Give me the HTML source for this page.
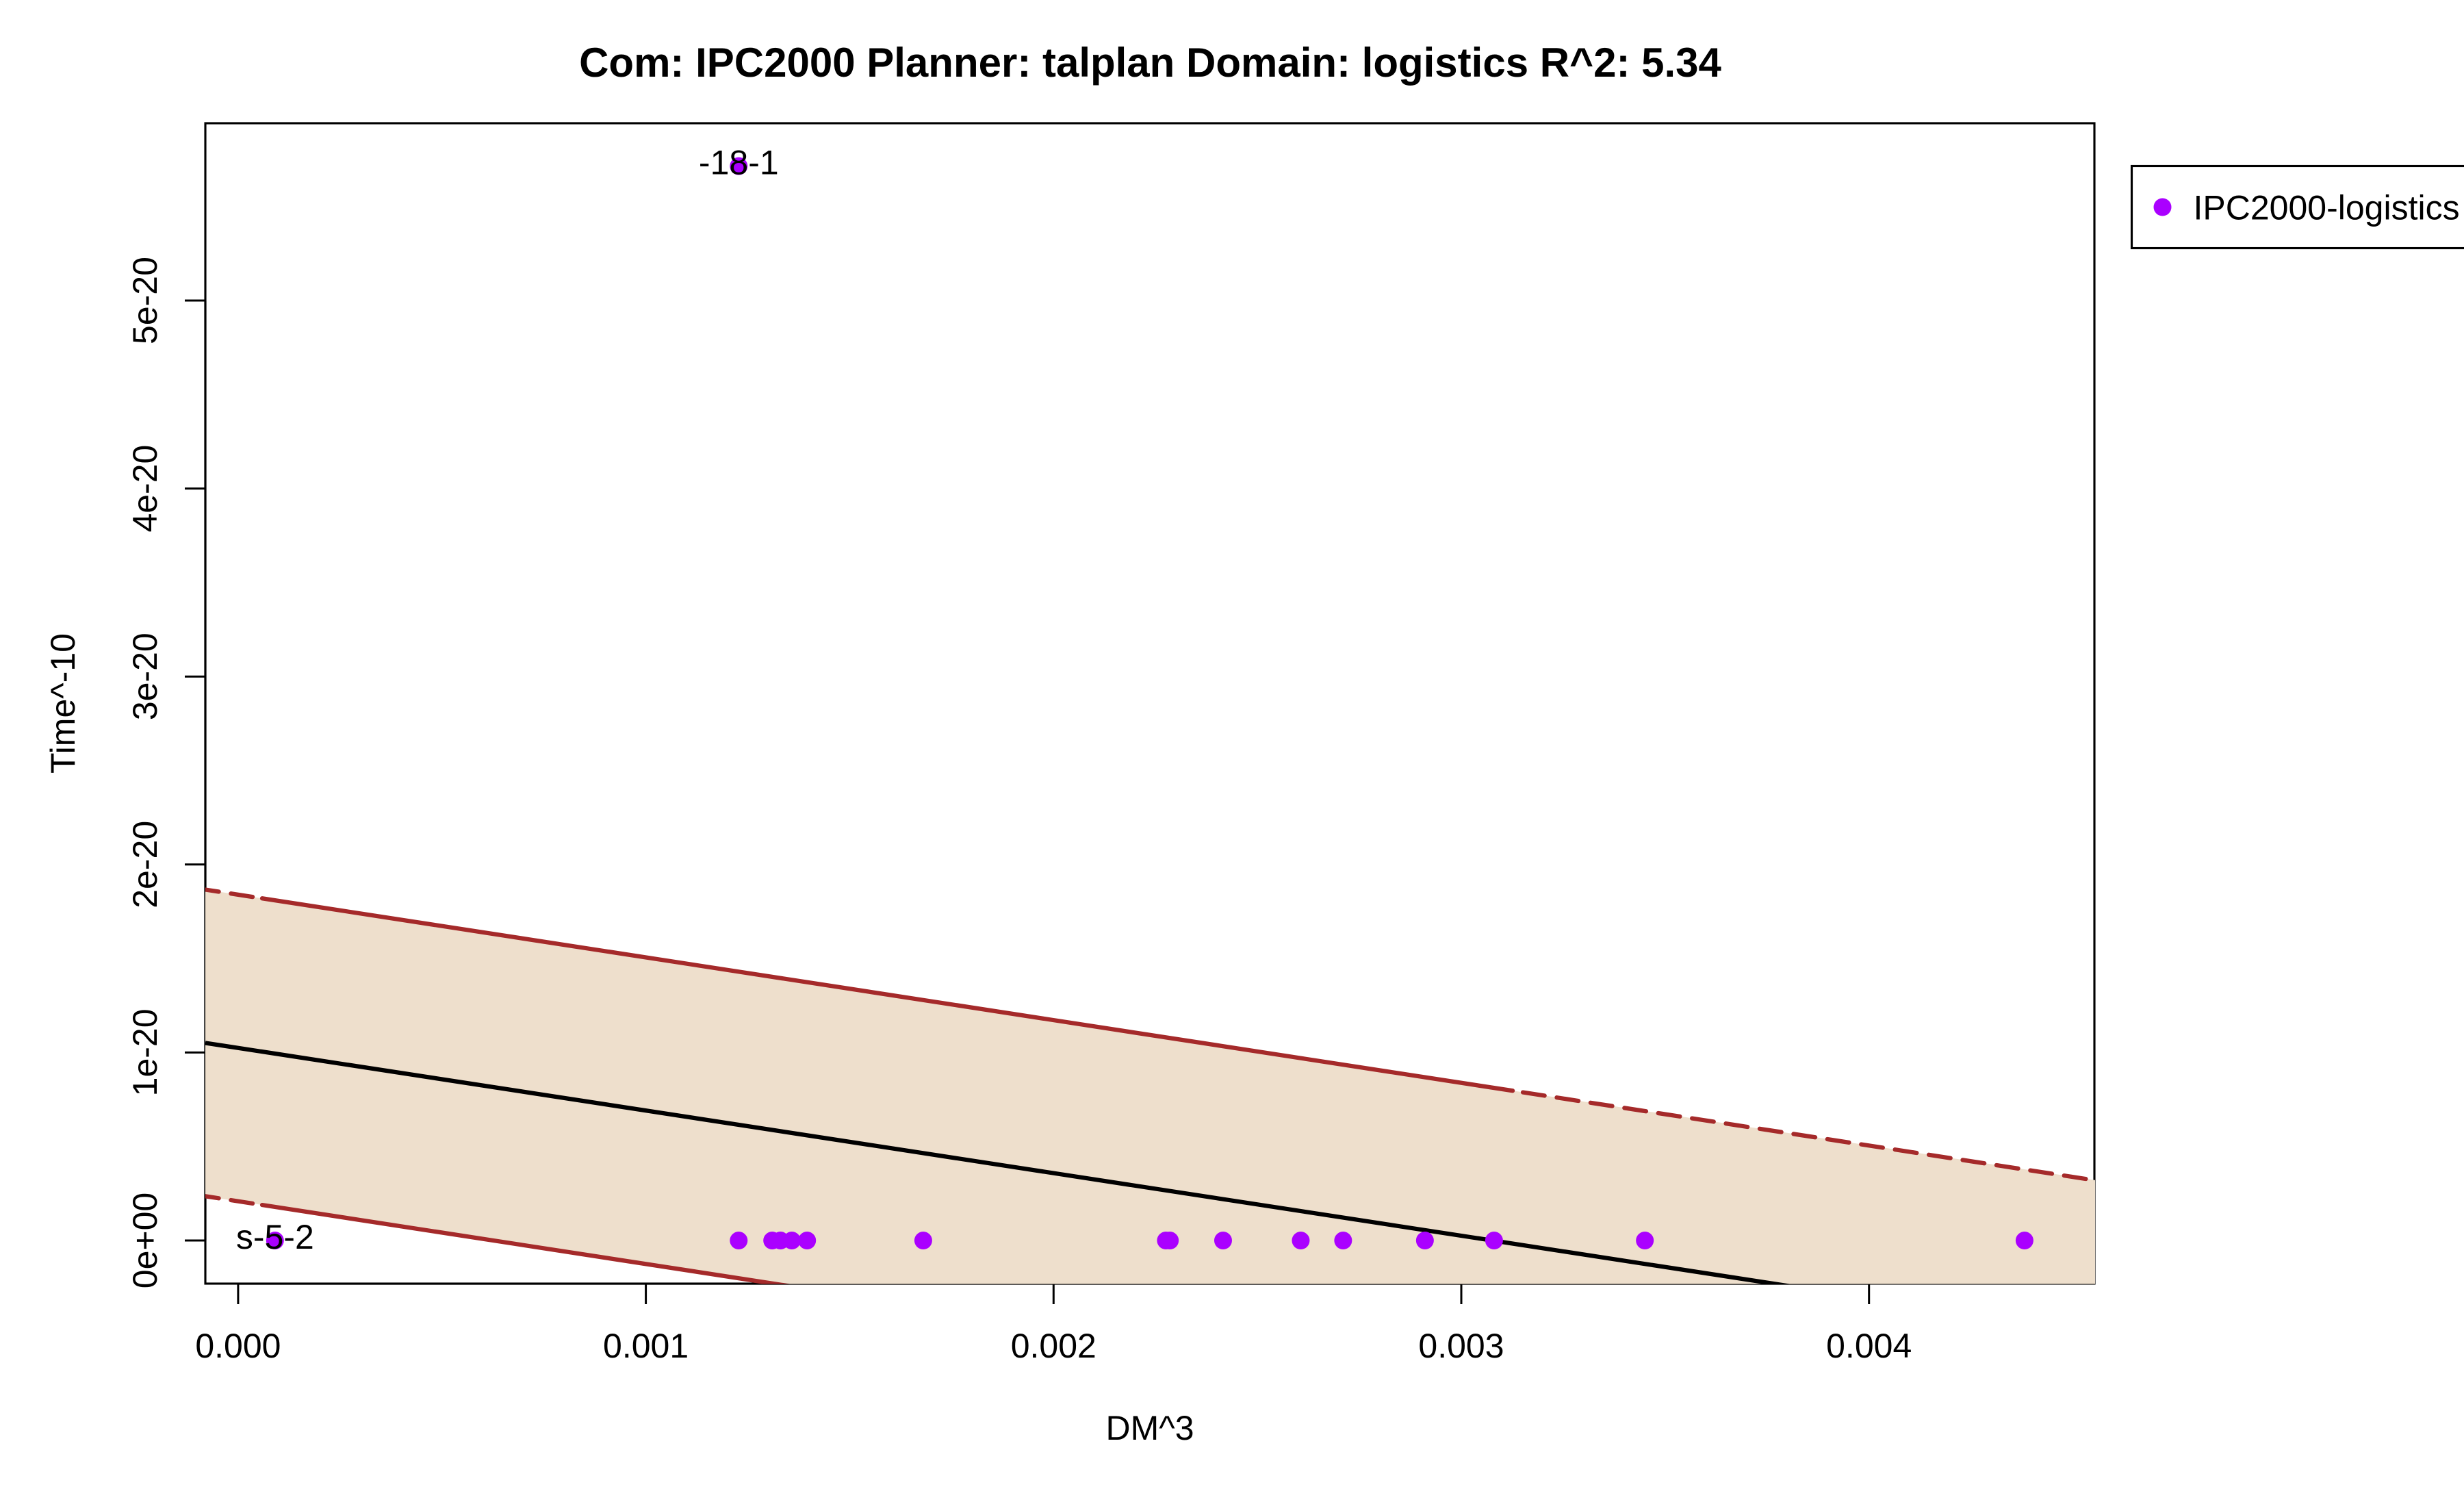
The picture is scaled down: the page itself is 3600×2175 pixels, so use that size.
<!DOCTYPE html>
<html lang="en">
<head>
<meta charset="utf-8">
<title>Com: IPC2000 Planner: talplan Domain: logistics R^2: 5.34</title>
<style>
html,body{margin:0;padding:0;background:#fff;}
svg{display:block;font-family:"Liberation Sans",Arial,sans-serif;}
</style>
</head>
<body>
<svg id="chart" xmlns="http://www.w3.org/2000/svg" width="3600" height="2175" viewBox="0 0 3600 2175">
  <rect x="0" y="0" width="3600" height="2175" fill="#ffffff"/>
  <defs>
    <clipPath id="plot-clip"><rect x="300" y="180" width="2761" height="1695.5"/></clipPath>
  </defs>
  <text x="1680.5" y="112" font-size="60" font-weight="bold" text-anchor="middle">Com: IPC2000 Planner: talplan Domain: logistics R^2: 5.34</text>
  <text x="1680" y="2103" font-size="50" text-anchor="middle">DM^3</text>
  <text x="109" y="1027.5" font-size="50" text-anchor="middle" transform="rotate(-90 109 1027.5)">Time^-10</text>
  <rect x="300" y="180" width="2760" height="1695" fill="none" stroke="#000" stroke-width="3.125"/>
  <g id="axes"></g>
  <g id="band" clip-path="url(#plot-clip)"></g>
  <g id="points"></g>
  <g id="labels"></g>
  <g>
    <rect x="3114.5" y="242.5" width="520" height="120" fill="#fff" stroke="#000" stroke-width="3.125"/>
    <circle cx="3159.5" cy="302.5" r="13" fill="#AA00FF"/>
    <text x="3204.5" y="320.5" font-size="50">IPC2000-logistics</text>
  </g>
</svg>
<script>
const xValues = [0.0000905, 0.0012278, 0.0012278, 0.0013099, 0.0013302, 0.0013581, 0.0013955, 0.0016804, 0.0022755, 0.0022852, 0.0024158, 0.0026063, 0.0027102, 0.0029108, 0.0030804, 0.0034502, 0.0043814];
const yValues = [0, 5.715e-20, 0, 0, 0, 0, 0, 0, 0, 0, 0, 0, 0, 0, 0, 0, 0];
const pointLabels = ["s-5-2", "-18-1", "", "", "", "", "", "", "", "", "", "", "", "", "", "", ""];
const xTickValues = [0, 0.001, 0.002, 0.003, 0.004];
const xTickLabels = ["0.000", "0.001", "0.002", "0.003", "0.004"];
const yTickValues = [0, 1e-20, 2e-20, 3e-20, 4e-20, 5e-20];
const yTickLabels = ["0e+00", "1e-20", "2e-20", "3e-20", "4e-20", "5e-20"];
const lineXValues = [-0.0000804, 0.0045528];
const fitValues = [1.0510e-20, -0.4916e-20];
const upperValues = [1.8664e-20, 0.3205e-20];
const lowerValues = [0.2356e-20, -1.3103e-20];
const xDomain = [-0.0000804, 0.0045528];
const yDomain = [-0.2294e-20, 5.9432e-20];
const dashBreakValues = [0.000059, 0.003126];

const NS = "http://www.w3.org/2000/svg";
const plotLeft = 300, plotRight = 3060, plotTop = 180, plotBottom = 1875;
function xPx(v) { return plotLeft + (v - xDomain[0]) / (xDomain[1] - xDomain[0]) * (plotRight - plotLeft); }
function yPx(v) { return plotBottom - (v - yDomain[0]) / (yDomain[1] - yDomain[0]) * (plotBottom - plotTop); }
function make(tag, attrs, parent) {
  const el = document.createElementNS(NS, tag);
  for (const k in attrs) el.setAttribute(k, attrs[k]);
  parent.appendChild(el);
  return el;
}
function lerp(series, x) {
  const t = (x - lineXValues[0]) / (lineXValues[1] - lineXValues[0]);
  return series[0] + (series[1] - series[0]) * t;
}

const axes = document.getElementById("axes");
const xAxisLine = make("line", {x1: xPx(xTickValues[0]), x2: xPx(xTickValues[xTickValues.length - 1]), y1: plotBottom, y2: plotBottom, stroke: "#000", "stroke-width": 3.125}, axes);


const yAxisLine = make("line", {x1: plotLeft, x2: plotLeft, y1: yPx(yTickValues[0]), y2: yPx(yTickValues[yTickValues.length - 1]), stroke: "#000", "stroke-width": 3.125}, axes);



xTickValues.forEach(function (v, i) {
  const px = xPx(v);
  const tick = make("line", {x1: px, x2: px, y1: plotBottom, y2: plotBottom + 30, stroke: "#000", "stroke-width": 3}, axes);
  
  
  const label = make("text", {x: px, y: 1983, "font-size": 50, "text-anchor": "middle"}, axes);
  
  
  label.textContent = xTickLabels[i];
});

yTickValues.forEach(function (v, i) {
  const py = yPx(v);
  const tick = make("line", {x1: plotLeft - 30, x2: plotLeft, y1: py, y2: py, stroke: "#000", "stroke-width": 3}, axes);
  
  
  const label = make("text", {x: 229, y: py, "font-size": 50, "text-anchor": "middle", transform: "rotate(-90 229 " + py + ")"}, axes);
  
  
  label.textContent = yTickLabels[i];
});

const band = document.getElementById("band");
const bandFill = make("polygon", {
  points: [
    [plotLeft, yPx(upperValues[0])],
    [plotRight + 1.5, yPx(upperValues[1])],
    [plotRight + 1.5, yPx(lowerValues[1])],
    [plotLeft, yPx(lowerValues[0])]
  ].map(function (p) { return p.join(","); }).join(" "),
  fill: "#EEDFCC", stroke: "none"
}, band);



const fitLine = make("line", {x1: xPx(lineXValues[0]), y1: yPx(fitValues[0]), x2: xPx(lineXValues[1]), y2: yPx(fitValues[1]), stroke: "#000", "stroke-width": 6.25}, band);



function drawBound(series, nameBase) {
  const b0 = dashBreakValues[0], b1 = dashBreakValues[1];
  const solid = make("line", {x1: xPx(b0), y1: yPx(lerp(series, b0)), x2: xPx(b1), y2: yPx(lerp(series, b1)), stroke: "#A52A2A", "stroke-width": 6.25, "stroke-linecap": "round"}, band);
  
  

  const slope = (yPx(series[1]) - yPx(series[0])) / (xPx(lineXValues[1]) - xPx(lineXValues[0]));
  const lx = xPx(b0) - 14, ly = yPx(lerp(series, b0)) - 14 * slope;
  const left = make("line", {x1: lx, y1: ly, x2: plotLeft - 10, y2: yPx(series[0]) - 10 * slope, stroke: "#A52A2A", "stroke-width": 6.25, "stroke-linecap": "round", "stroke-dasharray": "32 18"}, band);
  
  

  const rx = xPx(b1) + 15, ry = yPx(lerp(series, b1)) + 15 * slope;
  const right = make("line", {x1: rx, y1: ry, x2: xPx(lineXValues[1]), y2: yPx(series[1]), stroke: "#A52A2A", "stroke-width": 6.25, "stroke-linecap": "round", "stroke-dasharray": "32 18"}, band);
  
  
}
drawBound(upperValues, "upper-bound");
drawBound(lowerValues, "lower-bound");

const pointsGroup = document.getElementById("points");
const labelsGroup = document.getElementById("labels");
xValues.forEach(function (v, i) {
  const cx = xPx(v), cy = yPx(yValues[i]);
  const dot = make("circle", {cx: cx, cy: cy, r: 13, fill: "#AA00FF"}, pointsGroup);
  
  
  if (pointLabels[i]) {
    const t = make("text", {x: cx, y: cy + 12, "font-size": 50, "text-anchor": "middle"}, labelsGroup);
    
    
    t.textContent = pointLabels[i];
  }
});
</script>
</body>
</html>
